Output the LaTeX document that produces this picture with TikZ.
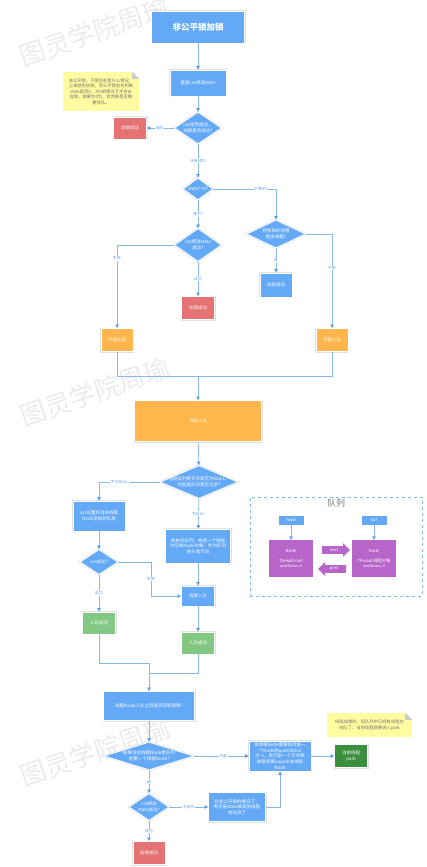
\documentclass[tikz,border=0pt]{standalone}
\usepackage{fontspec}
\setmainfont{Noto Sans CJK SC}
\usetikzlibrary{arrows.meta,positioning,shapes.geometric,shapes.arrows}

\definecolor{flowblue}{HTML}{64A9F6}
\definecolor{linkblue}{HTML}{86B8EC}
\definecolor{arrowblue}{HTML}{5A9FEA}
\definecolor{lockred}{HTML}{E57373}
\definecolor{queueorange}{HTML}{FFB74D}
\definecolor{okgreen}{HTML}{82C882}
\definecolor{parkgreen}{HTML}{3B8E3B}
\definecolor{nodepurple}{HTML}{B865C9}
\definecolor{noteyellow}{HTML}{FFFBA0}

\newcommand{\flowtext}{\fontsize{4.5}{5.6}\selectfont}
\newcommand{\edgetext}{\fontsize{3.8}{4.4}\selectfont}

\tikzset{
  box/.style={rectangle, preaction={draw=black!12, line width=2pt}, draw=white, line width=0.8pt,
    text=white, inner sep=1pt, align=center, font=\flowtext},
  proc/.style={box, fill=flowblue},
  lockbox/.style={box, fill=lockred},
  enqbox/.style={box, fill=queueorange},
  okbox/.style={box, fill=okgreen},
  parkbox/.style={box, fill=parkgreen},
  decide/.style={diamond, fill=flowblue, preaction={draw=black!12, line width=2pt}, draw=white,
    line width=0.8pt, inner sep=0pt},
  dectext/.style={text=white, align=center, font=\flowtext},
  lbl/.style={fill=white, text=arrowblue, font=\edgetext, inner sep=0.6pt},
  flow/.style={draw=linkblue, line width=0.7pt, -{Triangle[length=3.5pt, width=3.5pt, color=arrowblue]}},
  plain/.style={draw=linkblue, line width=0.7pt},
  note/.style={rectangle, fill=noteyellow, text=black!55, align=center, inner sep=1pt,
    font=\fontsize{4.3}{5.5}\selectfont},
  watermark/.style={text=black!8, font=\fontsize{26}{26}\selectfont, rotate=19},
  ptr/.style={rectangle, fill=flowblue, text=white, font=\fontsize{4}{5}\selectfont,
    minimum width=25pt, minimum height=9pt, inner sep=0pt},
  qnode/.style={rectangle, fill=nodepurple, text=white, align=center, font=\fontsize{4.2}{5}\selectfont,
    minimum width=44pt, minimum height=37pt, inner sep=1pt},
  fat/.style={single arrow, fill=nodepurple, text=white, font=\fontsize{4}{4.5}\selectfont,
    minimum height=28pt, inner xsep=1pt, inner ysep=2.2pt, single arrow head extend=3pt}
}

\begin{document}
\begin{tikzpicture}[x=1pt, y=-1pt]
\useasboundingbox (0,0) rectangle (426,867);

% watermark
\node[watermark] (wmTop) at (94,32) {图灵学院周瑜};
\node[watermark] (wmMid) at (95,392) {图灵学院周瑜};
\node[watermark] (wmLow) at (95,752) {图灵学院周瑜};

% top part
\node[proc, font=\bfseries\fontsize{8.5}{10}\selectfont, minimum width=93pt, minimum height=32pt] (start) at (198,27) {非公平锁加锁};
\node[proc, minimum width=56pt, minimum height=26pt] (casDirect) at (198,83) {直接cas修改state};
\node[note, minimum width=76pt, minimum height=39pt] (noteFair) at (101,91.5)
  {非公平锁，不管目前是什么情况，\\上来就先加锁，而公平锁会先判断\\state是否0，为0的情况下才会去\\加锁，如果为0为，会判断是否需\\要排队。};
\fill[white] (noteFair.north east) -- ++(-7,0) -- ++(7,7) -- cycle;
\fill[black!20] (noteFair.north east) ++(-7,0) -- ++(0,7) -- ++(7,0) -- cycle;

\node[decide, minimum width=47pt, minimum height=32pt, label={[dectext]center:{cas是否成功，\\加锁是否成功?}}] (casFirst) at (198,128) {};
\node[lockbox, minimum width=33pt, minimum height=22pt] (lockA) at (130,128) {加锁成功};
\node[decide, minimum width=30pt, minimum height=22pt, label={[dectext]center:{state==0?}}] (stateZero) at (198,189) {};
\node[decide, minimum width=47pt, minimum height=33pt, label={[dectext]center:{cas修改state\\成功?}}] (casState) at (198,245) {};
\node[lockbox, minimum width=33pt, minimum height=23pt] (lockB) at (198,308) {加锁成功};
\node[decide, minimum width=59pt, minimum height=28pt, label={[dectext]center:{持有锁的线程\\是本线程?}}] (ownThread) at (276,234) {};
\node[proc, minimum width=32pt, minimum height=24pt] (lockC) at (276,285) {加锁成功};
\node[enqbox, minimum width=32pt, minimum height=23pt] (enqLeft) at (117,340) {开始入队};
\node[enqbox, minimum width=32pt, minimum height=23pt] (enqRight) at (332,340) {开始入队};
\coordinate (enqJoin) at (198,376);

% enqueue
\node[enqbox, minimum width=127pt, minimum height=41pt] (enqStart) at (198,421) {开始入队};
\node[decide, minimum width=78pt, minimum height=33pt, label={[dectext]center:{当前队列尾节点是否为NULL，\\也就是队列是否为空?}}] (tailNull) at (199,482) {};
\node[proc, minimum width=52pt, minimum height=30pt] (addTail) at (99,516) {cas设置将当前线程\\Node添加到队尾};
\node[proc, minimum width=65pt, minimum height=34pt] (initQueue) at (198,546) {初始化队列，构造一个线程\\为空的Node对象，作为队列\\的头尾节点};
\node[decide, minimum width=38pt, minimum height=25pt, label={[dectext]center:{cas成功?}}] (casOk) at (99,562) {};
\coordinate (spinTurn) at (151,596);
\node[proc, minimum width=33pt, minimum height=20pt] (spin) at (198,596) {自旋入队};
\node[okbox, minimum width=33pt, minimum height=22pt] (enqOkA) at (99,623) {入队成功};
\node[okbox, minimum width=33pt, minimum height=22pt] (enqOkB) at (198,643) {入队成功};
\coordinate (joinA) at (149,663);
\coordinate (joinB) at (149,673);

% acquire after enqueue
\node[proc, minimum width=91pt, minimum height=29pt] (tryLock) at (149,706) {线程Node入队之后能否获取到锁?};
\node[decide, minimum width=90pt, minimum height=28pt, label={[dectext]center:{如果当前线程Node是队列\\的第一个线程Node?}}] (firstNode) at (149,756) {};
\node[decide, minimum width=40pt, minimum height=27pt, label={[dectext]center:{cas修改\\state成功?}}] (casFair) at (149,807) {};
\node[lockbox, minimum width=32pt, minimum height=23pt] (lockD) at (149,853) {加锁成功};
\node[proc, minimum width=57pt, minimum height=29pt] (stolen) at (237,807) {在非公平锁的情况下，\\有可能state被其他线程\\抢先改了};
\node[proc, minimum width=62pt, minimum height=30pt] (unparkPrev) at (280,756) {本线程Node需要修改前一\\个Node的waitStatus\\为-1，表示前一个节点释\\放锁后要unpark本线程\\Node};
\node[parkbox, minimum width=33pt, minimum height=23pt] (parkSelf) at (351,756) {当前线程\\park};
\node[note, minimum width=85pt, minimum height=24pt] (notePark) at (369.5,725) {线程加锁时，但队列中已经有线程在\\排队了，当前线程就要进入park};
\fill[white] (notePark.north east) -- ++(-7,0) -- ++(7,7) -- cycle;
\fill[black!20] (notePark.north east) ++(-7,0) -- ++(0,7) -- ++(7,0) -- cycle;

% queue
\node[draw=linkblue, dashed, line width=0.6pt, minimum width=172pt, minimum height=99pt] (queueBox) at (336,546.5) {};
\node[text=black!55, font=\fontsize{9}{10}\selectfont] (queueTitle) at (336,503) {队列};
\node[ptr] (headPtr) at (291,520) {head};
\node[ptr] (tailPtr) at (374,520) {tail};
\node[qnode] (nodeHead) at (291,558.5) {Node\\[5pt]Thread=null\\{\fontsize{3.6}{4.4}\selectfont waitStatus=0}};
\node[qnode] (nodeTail) at (374,558.5) {Node\\[5pt]Thread=线程对象\\{\fontsize{3.6}{4.4}\selectfont waitStatus=0}};
\node[fat] (nextArrow) at (334,550) {next};
\node[fat, shape border rotate=180] (prevArrow) at (334,569) {prev};

% connectors
\draw[flow] (start) -- (casDirect);
\draw[flow] (casDirect) -- (casFirst);
\draw[flow] (casFirst) -- node[lbl, pos=0.53] {成功} (lockA);
\draw[flow] (casFirst) -- node[lbl] {没有成功} (stateZero);
\draw[flow] (stateZero) -- node[lbl] {等于0} (casState);
\draw[flow] (stateZero.east) -| node[lbl, pos=0.38] {不等于0} (ownThread.north);
\draw[flow] (casState.west) -| node[lbl, pos=0.58] {失败} (enqLeft.north);
\draw[flow] (casState) -- node[lbl] {成功} (lockB);
\draw[flow] (ownThread) -- node[lbl] {是} (lockC);
\draw[flow] (ownThread.east) -| node[lbl, pos=0.68] {不是} (enqRight.north);
\draw[plain] (enqLeft.south) |- (enqJoin);
\draw[plain] (enqRight.south) |- (enqJoin);
\draw[flow] (enqJoin) -- (enqStart);
\draw[flow] (enqStart) -- (tailNull);
\draw[flow] (tailNull.west) -| node[lbl, pos=0.33] {不为NULL} (addTail.north);
\draw[flow] (tailNull) -- node[lbl] {为NULL} (initQueue);
\draw[flow] (addTail) -- (casOk);
\draw[flow] (casOk) -- node[lbl] {成功} (enqOkA);
\draw[flow] (casOk.east) -| node[lbl, pos=0.75] {失败} (spinTurn) -- (spin.west);
\draw[flow] (initQueue) -- (spin);
\draw[flow] (spin) -- (enqOkB);
\draw[plain] (enqOkA.south) |- (joinA);
\draw[plain] (enqOkB.south) |- (joinB);
\draw[flow] (joinA) -- (tryLock);
\draw[flow] (tryLock) -- (firstNode);
\draw[flow] (firstNode) -- node[lbl, pos=0.53] {不是} (unparkPrev);
\draw[flow] (firstNode) -- node[lbl] {是} (casFair);
\draw[flow] (casFair) -- node[lbl] {不成功} (stolen);
\draw[flow] (casFair) -- node[lbl] {成功} (lockD);
\draw[flow] (stolen.east) -| (unparkPrev.south);
\draw[flow] (unparkPrev) -- (parkSelf);
\draw[flow] (headPtr) -- (nodeHead);
\draw[flow] (tailPtr) -- (nodeTail);

\end{tikzpicture}
\end{document}
